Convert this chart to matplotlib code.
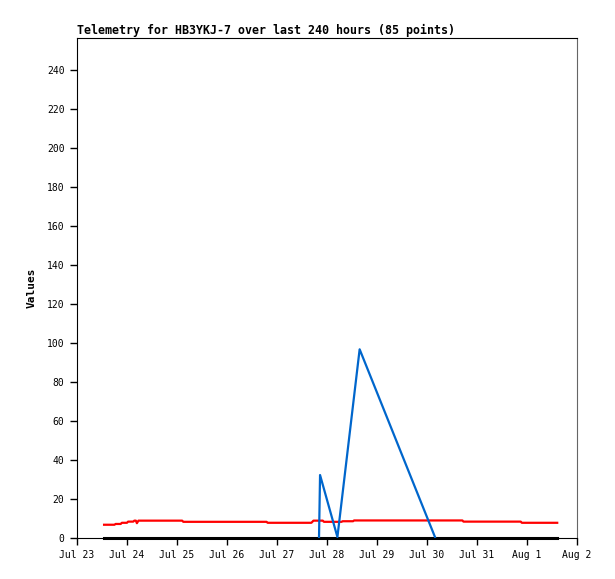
import matplotlib
matplotlib.use('Agg')
import matplotlib.pyplot as plt
import matplotlib.dates as mdates
import pandas as pd

# telemetry channels
red_times = ['2024-07-23 13:00', '2024-07-23 18:00', '2024-07-23 18:30', '2024-07-23 21:00',
             '2024-07-23 21:30', '2024-07-24 00:00', '2024-07-24 00:30', '2024-07-24 03:00',
             '2024-07-24 03:30', '2024-07-24 04:15', '2024-07-24 04:45', '2024-07-24 05:30',
             '2024-07-25 02:30', '2024-07-25 03:00', '2024-07-26 19:00', '2024-07-26 19:30',
             '2024-07-27 16:30', '2024-07-27 17:30', '2024-07-27 22:00', '2024-07-27 22:30',
             '2024-07-28 07:00', '2024-07-28 07:30', '2024-07-28 12:30', '2024-07-28 13:00',
             '2024-07-30 17:00', '2024-07-30 17:30', '2024-07-31 21:00', '2024-07-31 21:30',
             '2024-08-01 14:30']
red_values = [6.8, 6.8, 7.2, 7.2, 7.8, 7.8, 8.4, 8.4, 8.9, 8.9, 7.6, 8.9,
              8.9, 8.3, 8.3, 7.8, 7.8, 8.9, 8.9, 8.3, 8.3, 8.6, 8.6, 9.0,
              9.0, 8.4, 8.4, 7.8, 7.8]

blue_times = ['2024-07-27 20:10', '2024-07-27 20:40', '2024-07-28 05:00',
              '2024-07-28 15:40', '2024-07-30 03:50']
blue_values = [0, 32.3, 0.5, 96.8, 0.5]

black_times = ['2024-07-23 13:00', '2024-08-01 14:30']
black_values = [0, 0]

x_start = '2024-07-23'
x_end = '2024-08-02'
y_ticks = list(range(0, 241, 20))

plt.rcParams['font.family'] = ['DejaVu Sans Mono']

fig = plt.figure(figsize=(6.15, 5.79), dpi=100)
ax = fig.add_axes([77 / 615, 41 / 579, 500 / 615, 500 / 579])

ax.plot(pd.to_datetime(black_times), black_values, color='black', linewidth=2.2, clip_on=False, zorder=3)
ax.plot(pd.to_datetime(red_times), red_values, color='#ff0000', linewidth=1.6, zorder=4)
ax.plot(pd.to_datetime(blue_times), blue_values, color='#0066cc', linewidth=1.6, zorder=5)

ax.set_xlim(pd.Timestamp(x_start), pd.Timestamp(x_end))
ax.set_ylim(0, 256.5)
ax.set_yticks(y_ticks)
ax.xaxis.set_major_locator(mdates.DayLocator())
ax.xaxis.set_major_formatter(mdates.DateFormatter('%b %-d'))

ax.tick_params(direction='out', length=5, width=1, labelsize=7, pad=4)
for side in ['left', 'bottom', 'top']:
    ax.spines[side].set_color('black')
ax.spines['right'].set_color('#666666')

ax.set_title('Telemetry for HB3YKJ-7 over last 240 hours (85 points)',
             loc='left', fontsize=8.4, fontweight='bold', pad=3)
ax.set_ylabel('Values', fontsize=8, fontweight='bold', labelpad=7)

fig.savefig('out.png', dpi=100)
